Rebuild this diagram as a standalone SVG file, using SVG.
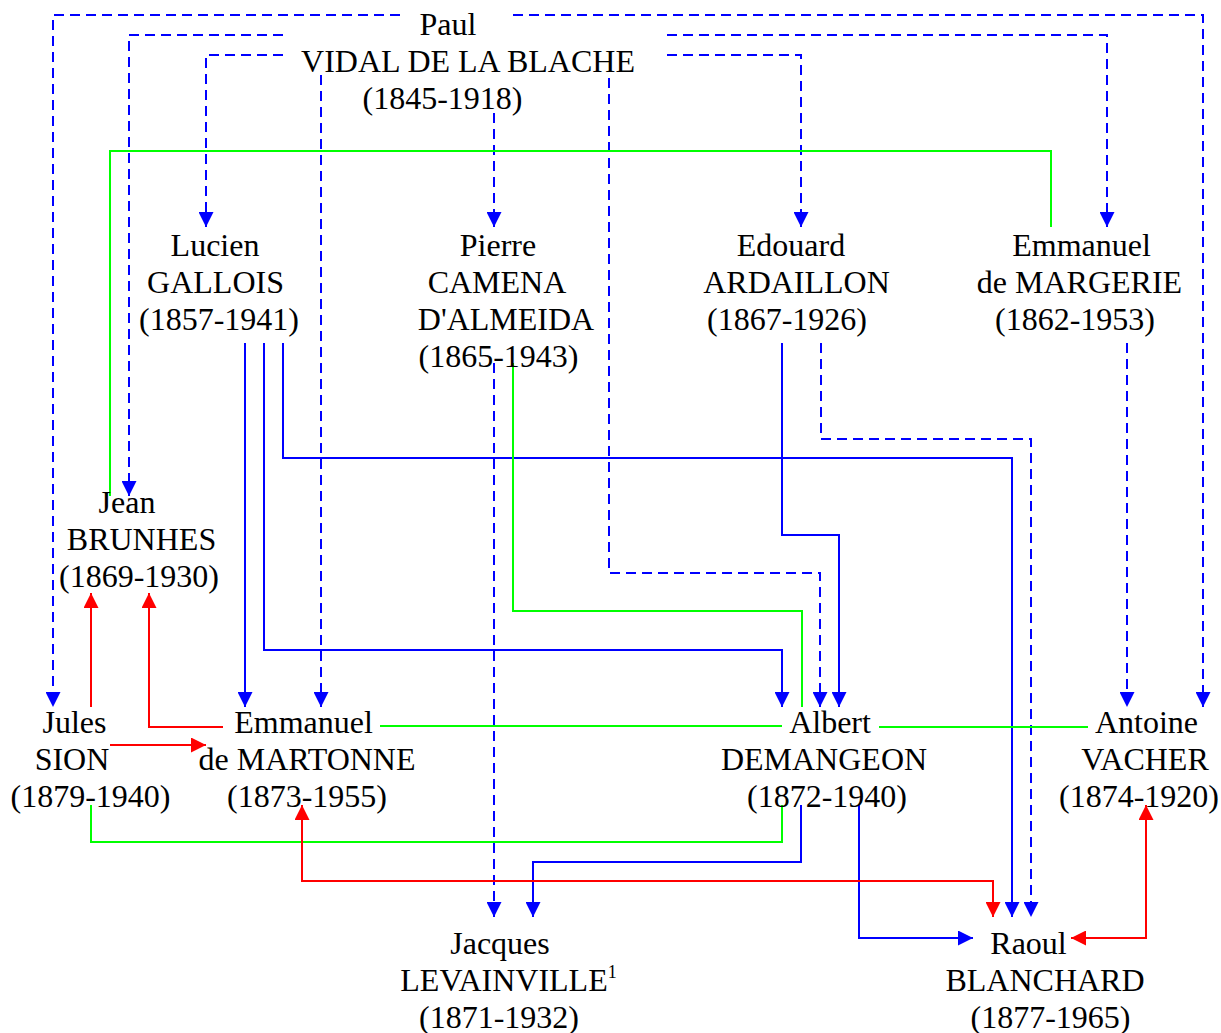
<svg xmlns="http://www.w3.org/2000/svg" width="1221" height="1033" viewBox="0 0 1221 1033">
<style>
.t{font-family:"Liberation Serif","Times New Roman",serif;font-size:32px;fill:#000;text-anchor:middle}
.sup{font-size:18px}
.c{fill:none;stroke-width:2}
.b{stroke:#0000ff}
.d{stroke-dasharray:10 6}
.g{stroke:#00ff00}
.r{stroke:#ff0000}
</style>
<defs>
<marker id="ab" markerUnits="userSpaceOnUse" markerWidth="15" markerHeight="15" refX="15" refY="7.5" orient="auto-start-reverse" viewBox="0 0 15 15"><path d="M0,0 L15,7.5 L0,15 Z" fill="#0000ff"/></marker>
<marker id="ar" markerUnits="userSpaceOnUse" markerWidth="15" markerHeight="15" refX="15" refY="7.5" orient="auto-start-reverse" viewBox="0 0 15 15"><path d="M0,0 L15,7.5 L0,15 Z" fill="#ff0000"/></marker>
</defs>
<rect width="1221" height="1033" fill="#fff"/>
<g id="connectors">
<path class="c b d" d="M400,15 H53 V707" marker-end="url(#ab)"/>
<path class="c b d" d="M513,15 H1203 V707" marker-end="url(#ab)"/>
<path class="c b d" d="M283,35 H129 V496" marker-end="url(#ab)"/>
<path class="c b d" d="M667,35 H1107 V227" marker-end="url(#ab)"/>
<path class="c b d" d="M283,55 H206 V227" marker-end="url(#ab)"/>
<path class="c b d" d="M667,55 H801 V227" marker-end="url(#ab)"/>
<path class="c b d" d="M321,75 V707" marker-end="url(#ab)"/>
<path class="c b d" d="M609,78 V573 H820 V707" marker-end="url(#ab)"/>
<path class="c b d" d="M494,113 V227" marker-end="url(#ab)"/>
<path class="c b d" d="M494,363 V917" marker-end="url(#ab)"/>
<path class="c b d" d="M821,343 V439 H1031 V917" marker-end="url(#ab)"/>
<path class="c b d" d="M1127,343 V707" marker-end="url(#ab)"/>
<path class="c b" d="M245,343 V707" marker-end="url(#ab)"/>
<path class="c b" d="M264,343 V650 H782 V707" marker-end="url(#ab)"/>
<path class="c b" d="M283,343 V458 H1012 V917" marker-end="url(#ab)"/>
<path class="c b" d="M782,343 V535 H839 V707" marker-end="url(#ab)"/>
<path class="c b" d="M801,805 V862 H533 V917" marker-end="url(#ab)"/>
<path class="c b" d="M859,805 V938 H973" marker-end="url(#ab)"/>
<path class="c g" d="M1051,227 V151 H110 V496"/>
<path class="c g" d="M513,363 V611 H802 V707"/>
<path class="c g" d="M380,726 H782"/>
<path class="c g" d="M879,727 H1088"/>
<path class="c g" d="M91,805 V842 H782 V805"/>
<path class="c r" d="M91,707 V593" marker-end="url(#ar)"/>
<path class="c r" d="M223,727 H149 V593" marker-end="url(#ar)"/>
<path class="c r" d="M110,745 H206" marker-end="url(#ar)"/>
<path class="c r" d="M302,805 V881 H993 V917" marker-start="url(#ar)" marker-end="url(#ar)"/>
<path class="c r" d="M1146,805 V938 H1071" marker-start="url(#ar)" marker-end="url(#ar)"/>
</g>
<g id="node-vidal"><text class="t"><tspan x="448" y="35">Paul</tspan><tspan x="468" y="72">VIDAL DE LA BLACHE</tspan><tspan x="442.5" y="109">(1845-1918)</tspan></text></g>
<g id="node-gallois"><text class="t"><tspan x="215" y="256">Lucien</tspan><tspan x="215.5" y="293">GALLOIS</tspan><tspan x="219" y="330">(1857-1941)</tspan></text></g>
<g id="node-camena"><text class="t"><tspan x="498" y="256">Pierre</tspan><tspan x="497" y="293">CAMENA</tspan><tspan x="506" y="330">D'ALMEIDA</tspan><tspan x="498.5" y="367">(1865-1943)</tspan></text></g>
<g id="node-ardaillon"><text class="t"><tspan x="791" y="256">Edouard</tspan><tspan x="796.5" y="293">ARDAILLON</tspan><tspan x="787" y="330">(1867-1926)</tspan></text></g>
<g id="node-margerie"><text class="t"><tspan x="1081.5" y="256">Emmanuel</tspan><tspan x="1079.5" y="293">de MARGERIE</tspan><tspan x="1075" y="330">(1862-1953)</tspan></text></g>
<g id="node-brunhes"><text class="t"><tspan x="127" y="513">Jean</tspan><tspan x="141.5" y="550">BRUNHES</tspan><tspan x="139" y="587">(1869-1930)</tspan></text></g>
<g id="node-sion"><text class="t"><tspan x="74.5" y="733">Jules</tspan><tspan x="72" y="770">SION</tspan><tspan x="90.5" y="807">(1879-1940)</tspan></text></g>
<g id="node-martonne"><text class="t"><tspan x="303.5" y="733">Emmanuel</tspan><tspan x="307" y="770">de MARTONNE</tspan><tspan x="307" y="807">(1873-1955)</tspan></text></g>
<g id="node-demangeon"><text class="t"><tspan x="830" y="733">Albert</tspan><tspan x="824" y="770">DEMANGEON</tspan><tspan x="827" y="807">(1872-1940)</tspan></text></g>
<g id="node-vacher"><text class="t"><tspan x="1146.5" y="733">Antoine</tspan><tspan x="1145" y="770">VACHER</tspan><tspan x="1139" y="807">(1874-1920)</tspan></text></g>
<g id="node-levainville"><text class="t"><tspan x="500" y="954">Jacques</tspan><tspan x="508.5" y="991">LEVAINVILLE</tspan><tspan class="sup" dy="-13">1</tspan><tspan x="499" y="1028">(1871-1932)</tspan></text></g>
<g id="node-blanchard"><text class="t"><tspan x="1028.5" y="954">Raoul</tspan><tspan x="1045" y="991">BLANCHARD</tspan><tspan x="1050.5" y="1028">(1877-1965)</tspan></text></g>
</svg>
